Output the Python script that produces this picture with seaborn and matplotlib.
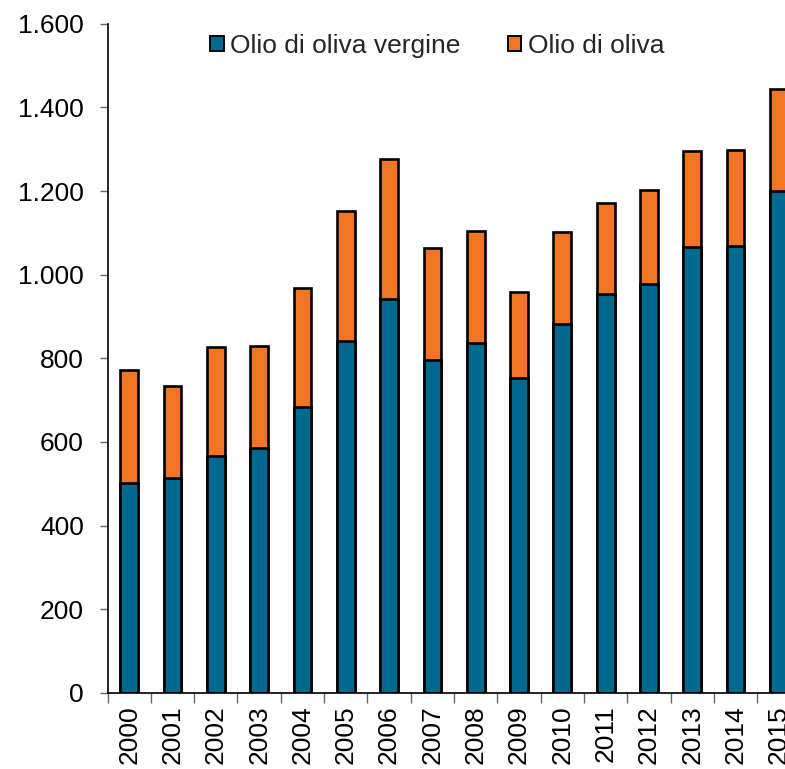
import numpy as np
import pandas as pd
import matplotlib
matplotlib.use("Agg")
import matplotlib.pyplot as plt
import seaborn as sns
from matplotlib.patches import Patch
from matplotlib.ticker import FuncFormatter, FixedLocator

years = [str(y) for y in range(2000, 2016)]
vergine = [502, 514, 567, 586, 684, 842, 943, 797, 837, 754, 883, 955, 978, 1067, 1069, 1201]
oliva = [271, 220, 261, 244, 285, 311, 334, 268, 268, 205, 220, 217, 225, 230, 230, 242]

blue = "#006990"
orange = "#F07524"

df = pd.DataFrame({"anno": years, "vergine": vergine, "oliva": oliva})
df["totale"] = df["vergine"] + df["oliva"]

sns.set_style("white")
plt.rcParams["font.family"] = ["Liberation Sans", "DejaVu Sans"]

fig = plt.figure(figsize=(7.85, 7.69), dpi=100)
ax = fig.add_axes([0.137, 0.099, 0.863, 0.870])

# stacked: total in orange, virgin oil drawn on top in blue
sns.barplot(data=df, x="anno", y="totale", color=orange, width=0.41,
            edgecolor="black", linewidth=1.9, saturation=1, ax=ax)
sns.barplot(data=df, x="anno", y="vergine", color=blue, width=0.41,
            edgecolor="black", linewidth=1.9, saturation=1, ax=ax)

ax.set_ylim(0, 1600)
ax.set_xlim(-0.5, 15.14)
ax.set_yticks(range(0, 1601, 200))
ax.yaxis.set_major_formatter(FuncFormatter(lambda v, p: f"{int(v):,}".replace(",", ".")))
ax.set_xlabel("")
ax.set_ylabel("")

ax.tick_params(axis="y", which="major", direction="out", length=6, width=1,
               color="#666666", labelsize=19, left=True, pad=11, labelcolor="black")
ax.tick_params(axis="x", which="major", length=0, labelsize=19, pad=9,
               labelrotation=90, labelcolor="black")
ax.xaxis.set_minor_locator(FixedLocator(np.arange(-0.5, 16, 1)))
ax.tick_params(axis="x", which="minor", direction="out", length=7, width=1,
               color="#666666", bottom=True)

for s in ["top", "right"]:
    ax.spines[s].set_visible(False)
for s in ["left", "bottom"]:
    ax.spines[s].set_color("black")
    ax.spines[s].set_linewidth(1.2)

handles = [Patch(facecolor=blue, edgecolor="black", linewidth=1.4),
           Patch(facecolor=orange, edgecolor="black", linewidth=1.4)]
ax.legend(handles, ["Olio di oliva vergine", "Olio di oliva"], ncol=2,
          loc="upper center", bbox_to_anchor=(0.487, 1.012), frameon=False,
          fontsize=19, handlelength=0.5, handleheight=0.5, handletextpad=0.25,
          columnspacing=1.8, borderaxespad=0.3)

fig.savefig("out.png", dpi=100)
